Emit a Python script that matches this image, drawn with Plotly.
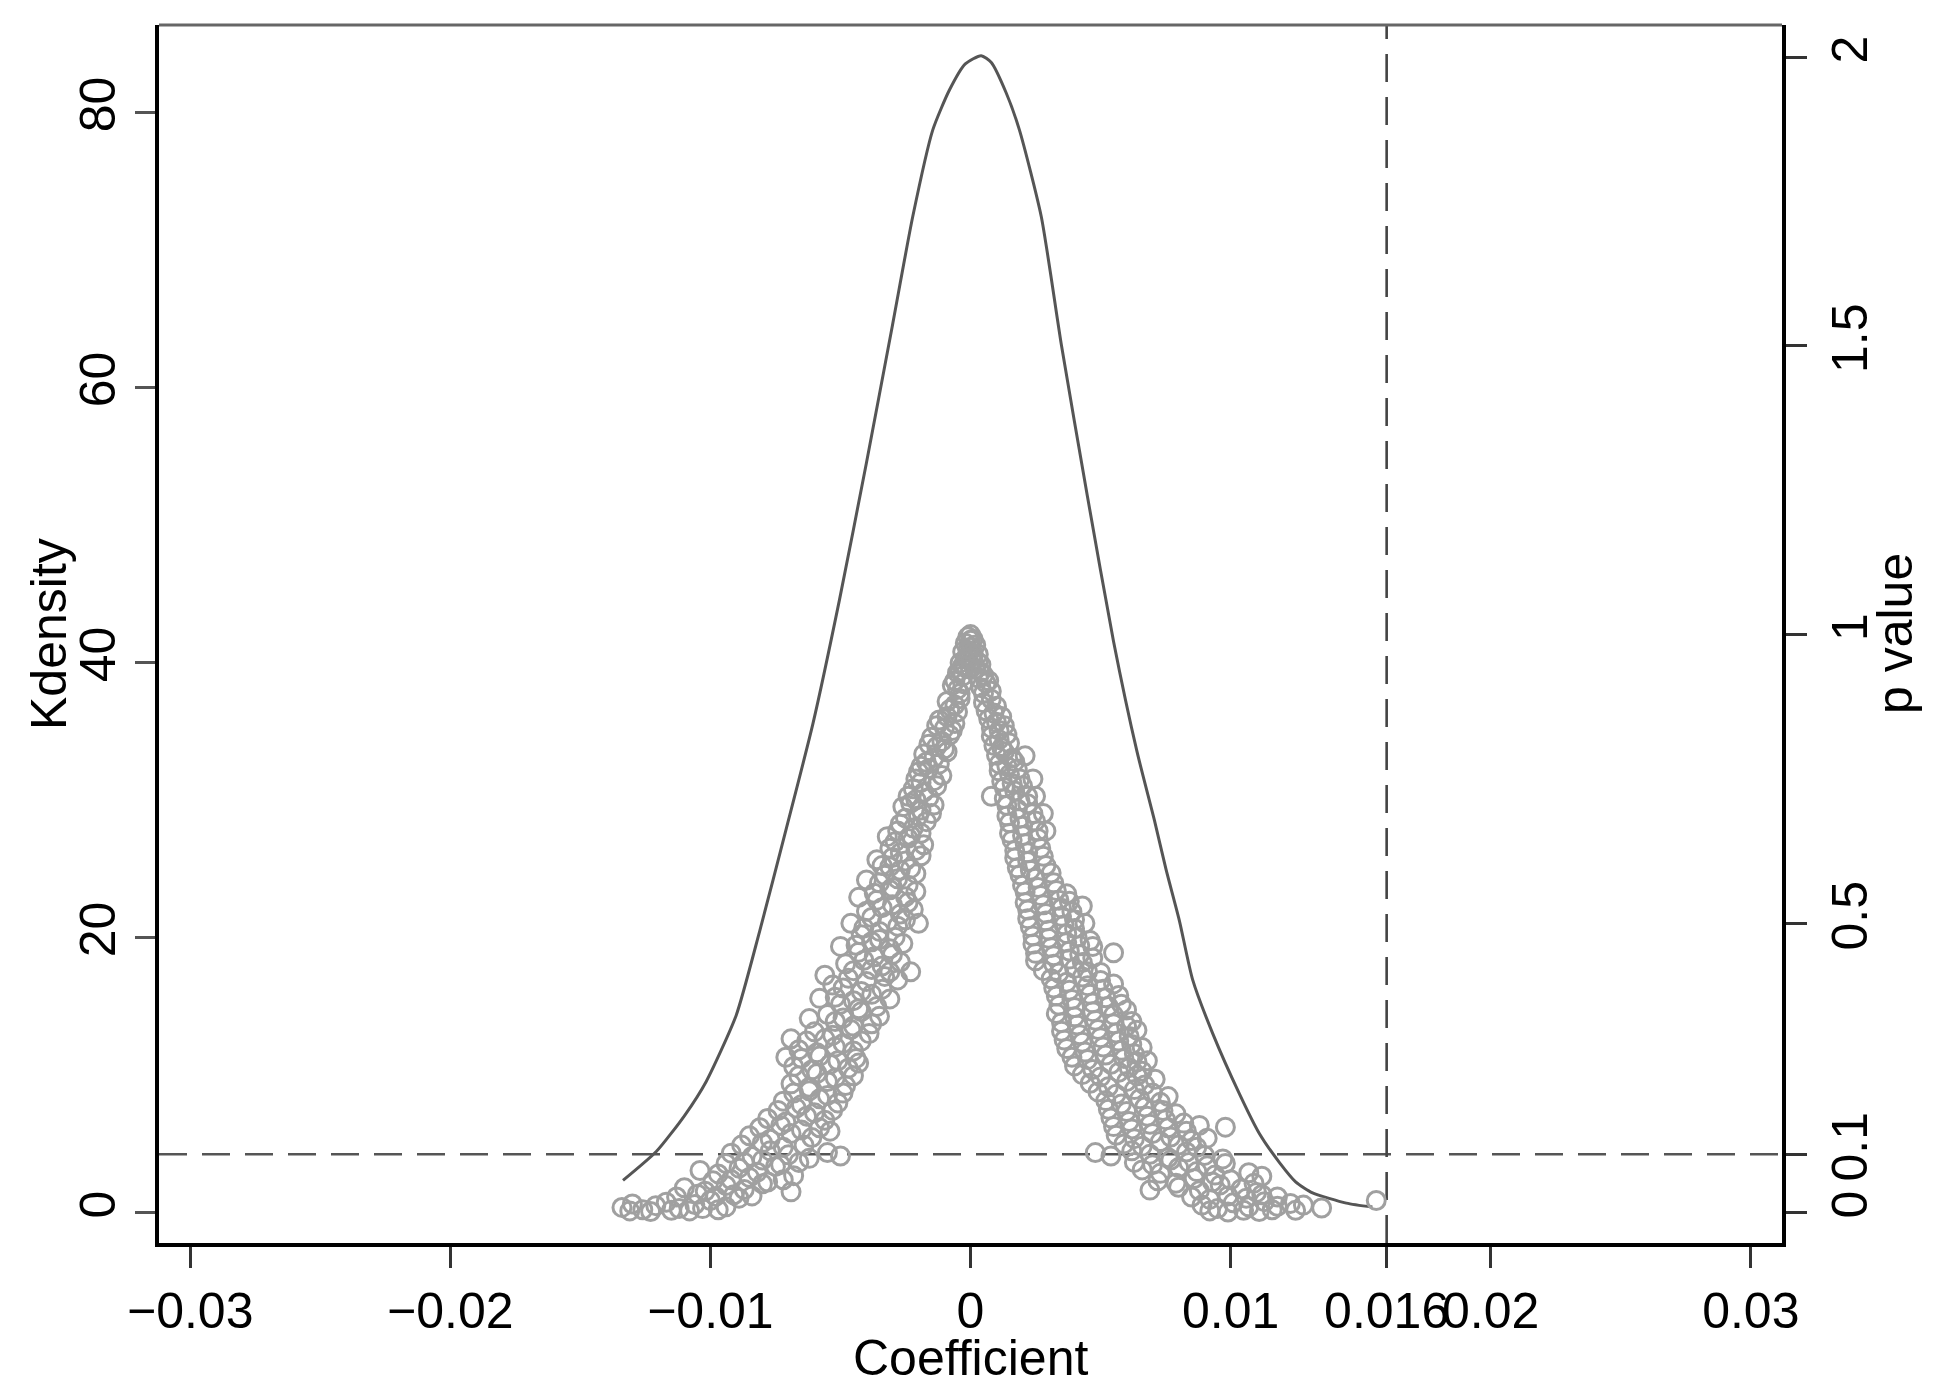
import plotly.graph_objects as go

# ---------------- data ----------------
# kernel density of placebo coefficients (left axis)
kd_coef = [-0.01336, -0.01208, -0.01100, -0.01016, -0.00901, -0.00811, -0.00708, -0.00606,
           -0.00504, -0.00400, -0.00300, -0.00222, -0.00145, -0.00081, -0.00020, 0.00041,
           0.00080, 0.00137, 0.00188, 0.00272, 0.00350, 0.00450, 0.00550, 0.00640,
           0.00707, 0.00752, 0.00803, 0.00854, 0.00931, 0.01034, 0.01111, 0.01188,
           0.01250, 0.01315, 0.01445, 0.01545]
kd_vals = [2.3, 4.4, 7.0, 9.5, 14.3, 20.4, 27.9, 35.5,
           44.5, 54.5, 64.5, 72.4, 78.7, 81.6, 83.5, 84.1,
           83.6, 81.4, 78.7, 72.4, 63.0, 52.0, 41.5, 33.5,
           28.5, 24.9, 21.2, 16.9, 13.0, 8.6, 5.7, 3.6,
           2.2, 1.4, 0.65, 0.36]

# placebo estimates: (coefficient, p value), right axis
placebo_peak = [(0.0000, 1.000), (-0.0001, 0.996), (0.0001, 0.992), (-0.0002, 0.985), (0.0002, 0.982),
                (0.0000, 0.978), (-0.0003, 0.970), (0.0003, 0.966), (-0.0001, 0.962), (0.0001, 0.957),
                (-0.0004, 0.951), (0.0004, 0.948), (-0.0002, 0.944), (0.0002, 0.940), (-0.0005, 0.934),
                (0.0005, 0.930), (-0.0003, 0.928), (0.0003, 0.925),
                (0.0000, 0.990), (-0.0001, 0.973), (0.0001, 0.968), (-0.0002, 0.958), (0.0003, 0.952),
                (-0.0003, 0.946), (0.0000, 0.940), (-0.0004, 0.937), (0.0004, 0.935)]

placebo_left = [
    (-0.0007, 0.912), (-0.0005, 0.905), (-0.0003, 0.915),
    (-0.0009, 0.884), (-0.0006, 0.878), (-0.0004, 0.889),
    (-0.0012, 0.852), (-0.0009, 0.858), (-0.0006, 0.846),
    (-0.0015, 0.822), (-0.0011, 0.815), (-0.0008, 0.826),
    (-0.0018, 0.793), (-0.0014, 0.787), (-0.0009, 0.797),
    (-0.0020, 0.762), (-0.0016, 0.768), (-0.0011, 0.756),
    (-0.0022, 0.733), (-0.0018, 0.727), (-0.0013, 0.738),
    (-0.0026, 0.702), (-0.0023, 0.708), (-0.0019, 0.696), (-0.0014, 0.705),
    (-0.0027, 0.672), (-0.0022, 0.665), (-0.0017, 0.676),
    (-0.0029, 0.641), (-0.0024, 0.647), (-0.0018, 0.636),
    (-0.0034, 0.600), (-0.0030, 0.614), (-0.0025, 0.608), (-0.0019, 0.617),
    (-0.0033, 0.583), (-0.0028, 0.577), (-0.0021, 0.586),
    (-0.0037, 0.552), (-0.0031, 0.558), (-0.0025, 0.546), (-0.0021, 0.555),
    (-0.0040, 0.521), (-0.0034, 0.527), (-0.0027, 0.516), (-0.0022, 0.524),
    (-0.0041, 0.492), (-0.0035, 0.486), (-0.0028, 0.495), (-0.0020, 0.500),
    (-0.0044, 0.462), (-0.0038, 0.468), (-0.0031, 0.456), (-0.0026, 0.465),
    (-0.0048, 0.430), (-0.0041, 0.436), (-0.0034, 0.426), (-0.0027, 0.433), (-0.0023, 0.416),
    (-0.0053, 0.393), (-0.0047, 0.405), (-0.0040, 0.399), (-0.0033, 0.408), (-0.0028, 0.402),
    (-0.0052, 0.372), (-0.0045, 0.366), (-0.0038, 0.377), (-0.0031, 0.369),
    (-0.0055, 0.342), (-0.0049, 0.336), (-0.0042, 0.347), (-0.0035, 0.339),
    (-0.0060, 0.312), (-0.0053, 0.306), (-0.0046, 0.316), (-0.0039, 0.309),
    (-0.0066, 0.281), (-0.0059, 0.276), (-0.0052, 0.286), (-0.0045, 0.279),
    (-0.0068, 0.252), (-0.0061, 0.246), (-0.0054, 0.256), (-0.0047, 0.249), (-0.0043, 0.258),
    (-0.0069, 0.222), (-0.0062, 0.216), (-0.0055, 0.226), (-0.0048, 0.219),
    (-0.0072, 0.192), (-0.0065, 0.186), (-0.0058, 0.196), (-0.0051, 0.189),
    (-0.0078, 0.162), (-0.0071, 0.156), (-0.0063, 0.166), (-0.0056, 0.159),
    (-0.0085, 0.132), (-0.0077, 0.126), (-0.0069, 0.136), (-0.0061, 0.129), (-0.0054, 0.140),
    (-0.0092, 0.102), (-0.0084, 0.096), (-0.0077, 0.106), (-0.0070, 0.099), (-0.0062, 0.093),
    (-0.0055, 0.103), (-0.0050, 0.097),
    (-0.0104, 0.072), (-0.0097, 0.066), (-0.0089, 0.076), (-0.0082, 0.069), (-0.0075, 0.079),
    (-0.0068, 0.063),
    (-0.0110, 0.042), (-0.0102, 0.036), (-0.0094, 0.046), (-0.0087, 0.039), (-0.0080, 0.049),
    (-0.0069, 0.035),
    (-0.0134, 0.008), (-0.0130, 0.014), (-0.0126, 0.004), (-0.0121, 0.011), (-0.0117, 0.017),
    (-0.0112, 0.006), (-0.0106, 0.013), (-0.0100, 0.020), (-0.0094, 0.009), (-0.0089, 0.024),
    # second pass of the left band
    (-0.0006, 0.920), (-0.0004, 0.898),
    (-0.0008, 0.870), (-0.0005, 0.866),
    (-0.0010, 0.838), (-0.0007, 0.834), (-0.0013, 0.842),
    (-0.0013, 0.806), (-0.0010, 0.802), (-0.0016, 0.810),
    (-0.0012, 0.776), (-0.0017, 0.779), (-0.0019, 0.772),
    (-0.0014, 0.747), (-0.0019, 0.744), (-0.0021, 0.750),
    (-0.0016, 0.718), (-0.0021, 0.714), (-0.0024, 0.720),
    (-0.0020, 0.686), (-0.0025, 0.682), (-0.0015, 0.690),
    (-0.0019, 0.656), (-0.0023, 0.652), (-0.0028, 0.660),
    (-0.0021, 0.626), (-0.0027, 0.622), (-0.0031, 0.630),
    (-0.0023, 0.595), (-0.0027, 0.592), (-0.0031, 0.598),
    (-0.0024, 0.566), (-0.0030, 0.562), (-0.0035, 0.570),
    (-0.0024, 0.536), (-0.0030, 0.532), (-0.0036, 0.540),
    (-0.0025, 0.506), (-0.0032, 0.502), (-0.0038, 0.510),
    (-0.0029, 0.476), (-0.0035, 0.472), (-0.0042, 0.480),
    (-0.0030, 0.446), (-0.0037, 0.442), (-0.0043, 0.450),
    (-0.0031, 0.416), (-0.0038, 0.420), (-0.0045, 0.418),
    (-0.0034, 0.386), (-0.0042, 0.382), (-0.0049, 0.388),
    (-0.0036, 0.356), (-0.0043, 0.352), (-0.0050, 0.360),
    (-0.0038, 0.326), (-0.0045, 0.322), (-0.0052, 0.330),
    (-0.0042, 0.296), (-0.0049, 0.292), (-0.0056, 0.300), (-0.0063, 0.296),
    (-0.0044, 0.266), (-0.0051, 0.262), (-0.0058, 0.270), (-0.0065, 0.266),
    (-0.0045, 0.236), (-0.0052, 0.232), (-0.0059, 0.240), (-0.0066, 0.236),
    (-0.0049, 0.206), (-0.0055, 0.202), (-0.0062, 0.210), (-0.0068, 0.206),
    (-0.0053, 0.176), (-0.0060, 0.172), (-0.0067, 0.180), (-0.0074, 0.176),
    (-0.0058, 0.146), (-0.0065, 0.142), (-0.0073, 0.150), (-0.0081, 0.146),
    (-0.0064, 0.116), (-0.0072, 0.112), (-0.0080, 0.120), (-0.0088, 0.116),
    (-0.0066, 0.086), (-0.0073, 0.082), (-0.0080, 0.090), (-0.0087, 0.086), (-0.0094, 0.084),
    (-0.0072, 0.056), (-0.0078, 0.052), (-0.0085, 0.060), (-0.0092, 0.056), (-0.0099, 0.054),
    (-0.0084, 0.028), (-0.0091, 0.030), (-0.0098, 0.027), (-0.0105, 0.031), (-0.0113, 0.026),
    (-0.0131, 0.002), (-0.0123, 0.001), (-0.0115, 0.003), (-0.0108, 0.002), (-0.0103, 0.006),
    (-0.0097, 0.004),
    # outer edge of the left band
    (-0.0032, 0.650), (-0.0036, 0.610), (-0.0040, 0.575), (-0.0043, 0.545), (-0.0046, 0.500),
    (-0.0050, 0.460), (-0.0056, 0.410), (-0.0058, 0.370), (-0.0062, 0.335), (-0.0069, 0.300),
    (-0.0071, 0.268),
]

placebo_right = [
    (0.0004, 0.908), (0.0006, 0.916), (0.0008, 0.902),
    (0.0005, 0.882), (0.0008, 0.888), (0.0010, 0.876),
    (0.0007, 0.854), (0.0010, 0.848), (0.0012, 0.858),
    (0.0008, 0.824), (0.0011, 0.818), (0.0014, 0.827),
    (0.0010, 0.791), (0.0013, 0.797), (0.0016, 0.786),
    (0.0011, 0.764), (0.0015, 0.758), (0.0018, 0.767),
    (0.0008, 0.720), (0.0013, 0.735), (0.0017, 0.729), (0.0020, 0.738), (0.0025, 0.720),
    (0.0014, 0.704), (0.0018, 0.698), (0.0022, 0.707),
    (0.0015, 0.674), (0.0020, 0.668), (0.0025, 0.677),
    (0.0016, 0.644), (0.0021, 0.638), (0.0026, 0.647),
    (0.0017, 0.613), (0.0022, 0.607), (0.0028, 0.616),
    (0.0019, 0.584), (0.0025, 0.578), (0.0031, 0.587),
    (0.0021, 0.554), (0.0027, 0.548), (0.0033, 0.557), (0.0037, 0.551),
    (0.0022, 0.523), (0.0029, 0.517), (0.0035, 0.526), (0.0039, 0.520),
    (0.0023, 0.494), (0.0030, 0.488), (0.0036, 0.497), (0.0040, 0.491),
    (0.0024, 0.464), (0.0031, 0.458), (0.0037, 0.467), (0.0042, 0.461), (0.0047, 0.460),
    (0.0025, 0.435), (0.0032, 0.429), (0.0038, 0.438), (0.0043, 0.432), (0.0055, 0.449),
    (0.0031, 0.404), (0.0037, 0.398), (0.0043, 0.407), (0.0050, 0.401),
    (0.0033, 0.374), (0.0039, 0.368), (0.0046, 0.377), (0.0052, 0.371),
    (0.0033, 0.344), (0.0040, 0.338), (0.0047, 0.347), (0.0055, 0.341), (0.0062, 0.330),
    (0.0035, 0.313), (0.0042, 0.307), (0.0049, 0.316), (0.0056, 0.310), (0.0061, 0.304),
    (0.0037, 0.283), (0.0044, 0.277), (0.0051, 0.286), (0.0058, 0.280), (0.0063, 0.274),
    (0.0040, 0.253), (0.0047, 0.247), (0.0054, 0.256), (0.0061, 0.250), (0.0066, 0.244),
    (0.0046, 0.223), (0.0053, 0.217), (0.0060, 0.226), (0.0067, 0.220),
    (0.0052, 0.193), (0.0058, 0.187), (0.0065, 0.196), (0.0073, 0.190),
    (0.0054, 0.163), (0.0061, 0.157), (0.0068, 0.166), (0.0075, 0.160), (0.0082, 0.154),
    (0.0056, 0.133), (0.0063, 0.127), (0.0070, 0.136), (0.0077, 0.130), (0.0085, 0.124),
    (0.0098, 0.147),
    (0.0048, 0.103), (0.0054, 0.097), (0.0062, 0.106), (0.0069, 0.100), (0.0076, 0.094),
    (0.0083, 0.104), (0.0090, 0.098), (0.0097, 0.092),
    (0.0066, 0.073), (0.0073, 0.067), (0.0080, 0.077), (0.0087, 0.070), (0.0094, 0.064),
    (0.0107, 0.068), (0.0112, 0.062),
    (0.0069, 0.038), (0.0080, 0.043), (0.0088, 0.037), (0.0096, 0.047), (0.0104, 0.040),
    (0.0110, 0.034),
    (0.0089, 0.012), (0.0095, 0.006), (0.0101, 0.016), (0.0107, 0.009), (0.0113, 0.018),
    (0.0118, 0.010), (0.0123, 0.015), (0.0128, 0.012), (0.0135, 0.007), (0.0156, 0.020),
    # second pass of the right band
    (0.0005, 0.898), (0.0007, 0.920),
    (0.0006, 0.868), (0.0009, 0.864),
    (0.0008, 0.838), (0.0011, 0.834), (0.0013, 0.842),
    (0.0009, 0.808), (0.0012, 0.804), (0.0015, 0.812),
    (0.0011, 0.776), (0.0014, 0.772), (0.0017, 0.780),
    (0.0012, 0.746), (0.0016, 0.742), (0.0019, 0.750),
    (0.0013, 0.716), (0.0019, 0.712), (0.0022, 0.720),
    (0.0014, 0.686), (0.0019, 0.682), (0.0024, 0.690),
    (0.0015, 0.656), (0.0020, 0.652), (0.0026, 0.660),
    (0.0017, 0.626), (0.0022, 0.622), (0.0027, 0.630),
    (0.0018, 0.596), (0.0023, 0.592), (0.0029, 0.600),
    (0.0020, 0.566), (0.0026, 0.562), (0.0032, 0.570),
    (0.0021, 0.536), (0.0028, 0.532), (0.0034, 0.540), (0.0038, 0.538),
    (0.0022, 0.508), (0.0029, 0.504), (0.0035, 0.512), (0.0040, 0.506),
    (0.0024, 0.478), (0.0030, 0.474), (0.0037, 0.482), (0.0041, 0.476),
    (0.0025, 0.448), (0.0032, 0.444), (0.0038, 0.452), (0.0042, 0.446),
    (0.0028, 0.418), (0.0034, 0.414), (0.0040, 0.422), (0.0045, 0.416),
    (0.0032, 0.388), (0.0038, 0.384), (0.0045, 0.392), (0.0051, 0.386),
    (0.0034, 0.358), (0.0040, 0.354), (0.0047, 0.362), (0.0053, 0.356), (0.0058, 0.360),
    (0.0035, 0.328), (0.0041, 0.324), (0.0048, 0.332), (0.0055, 0.326), (0.0060, 0.322),
    (0.0036, 0.298), (0.0043, 0.294), (0.0050, 0.302), (0.0057, 0.296), (0.0062, 0.290),
    (0.0039, 0.268), (0.0045, 0.264), (0.0052, 0.272), (0.0059, 0.266), (0.0064, 0.260),
    (0.0043, 0.238), (0.0050, 0.234), (0.0057, 0.242), (0.0064, 0.236),
    (0.0049, 0.208), (0.0056, 0.204), (0.0063, 0.212), (0.0070, 0.206),
    (0.0053, 0.178), (0.0060, 0.174), (0.0067, 0.182), (0.0074, 0.176),
    (0.0055, 0.148), (0.0062, 0.144), (0.0069, 0.152), (0.0076, 0.146), (0.0083, 0.140),
    (0.0059, 0.118), (0.0066, 0.114), (0.0073, 0.122), (0.0080, 0.116), (0.0087, 0.112),
    (0.0063, 0.086), (0.0070, 0.082), (0.0077, 0.090), (0.0084, 0.086), (0.0091, 0.080),
    (0.0098, 0.084),
    (0.0072, 0.054), (0.0079, 0.050), (0.0086, 0.058), (0.0093, 0.052), (0.0100, 0.056),
    (0.0109, 0.050),
    (0.0085, 0.026), (0.0092, 0.022), (0.0099, 0.028), (0.0106, 0.024), (0.0112, 0.030),
    (0.0118, 0.026),
    (0.0092, 0.002), (0.0099, 0.000), (0.0105, 0.003), (0.0111, 0.001), (0.0116, 0.004),
    (0.0125, 0.003),
    # outer edge of the right band
    (0.0021, 0.790), (0.0024, 0.750), (0.0028, 0.690), (0.0029, 0.660), (0.0043, 0.530),
    (0.0044, 0.500), (0.0046, 0.470), (0.0047, 0.440), (0.0050, 0.415), (0.0055, 0.395),
    (0.0057, 0.375), (0.0060, 0.350), (0.0064, 0.315), (0.0066, 0.285), (0.0068, 0.262),
    (0.0071, 0.230), (0.0076, 0.200), (0.0079, 0.170), (0.0088, 0.150), (0.0091, 0.128),
]

x_tickvals = [-0.03, -0.02, -0.01, 0, 0.01, 0.016, 0.02, 0.03]
x_ticktext = ["\u22120.03", "\u22120.02", "\u22120.01", "0", "0.01", "0.016", "0.02", "0.03"]
y_tickvals = [0, 20, 40, 60, 80]
y2_tickvals = [0, 0.1, 0.5, 1, 1.5, 2]
y2_ticktext = ["0", "0.1", "0.5", "1", "1.5", "2"]
true_coef = 0.016
p_threshold = 0.1

# ---------------- figure ----------------
FONT = "Liberation Sans, Arial, Helvetica, sans-serif"
pts = placebo_left + placebo_peak + placebo_right
pc = [a for a, b in pts]
pp = [b for a, b in pts]

fig = go.Figure()
fig.add_trace(go.Scatter(
    x=pc, y=pp, yaxis="y2", mode="markers", name="p value",
    marker=dict(symbol="circle-open", size=18, color="#a0a0a0",
                line=dict(width=3, color="#a0a0a0")),
    showlegend=False))
fig.add_trace(go.Scatter(
    x=kd_coef, y=kd_vals, yaxis="y", mode="lines", name="Kdensity",
    line=dict(color="#555555", width=3, shape="spline", smoothing=0.6),
    showlegend=False))

dash = "28px,15px"
fig.add_shape(type="line", xref="paper", x0=0, x1=1, yref="y2", y0=p_threshold, y1=p_threshold,
              line=dict(color="#555555", width=2.6, dash=dash), layer="below")
fig.add_shape(type="line", xref="x", x0=true_coef, x1=true_coef, yref="paper", y0=0, y1=1,
              line=dict(color="#444444", width=2.6, dash=dash), layer="below")
# top border of plot region
fig.add_shape(type="line", xref="paper", x0=0, x1=1, yref="paper", y0=1, y1=1,
              line=dict(color="#666666", width=3))

tickfont = dict(family=FONT, size=50, color="black")
fig.update_layout(
    width=1919, height=1383,
    margin=dict(l=151, r=145, t=17, b=148, autoexpand=False),
    paper_bgcolor="white", plot_bgcolor="white",
    font=dict(family=FONT, size=50, color="black"),
    xaxis=dict(range=[-0.0312, 0.0312], tickvals=x_tickvals, ticktext=x_ticktext,
               tickangle=0,
               ticks="outside", ticklen=21, tickwidth=2.5, tickcolor="#333333",
               showline=True, linecolor="black", linewidth=4,
               showgrid=False, zeroline=False, tickfont=tickfont),
    yaxis=dict(range=[-2.25, 86.33], tickvals=y_tickvals, tickangle=-90,
               ticks="outside", ticklen=20, tickwidth=2.5, tickcolor="#555555",
               showline=True, linecolor="black", linewidth=4,
               showgrid=False, zeroline=False, tickfont=tickfont),
    yaxis2=dict(range=[-0.0536, 2.0555], tickvals=y2_tickvals, ticktext=y2_ticktext,
                tickangle=-90, overlaying="y", side="right",
                ticks="outside", ticklen=21, tickwidth=2.5, tickcolor="#333333",
                showline=True, linecolor="black", linewidth=4,
                showgrid=False, zeroline=False, tickfont=tickfont),
    annotations=[
        dict(text="Coefficient", xref="paper", yref="paper", x=0.5, y=0, yshift=-115,
             xanchor="center", yanchor="middle", showarrow=False,
             font=dict(family=FONT, size=50, color="black")),
        dict(text="Kdensity", xref="paper", yref="paper", x=0, y=0.5, xshift=-110,
             xanchor="center", yanchor="middle", textangle=-90, showarrow=False,
             font=dict(family=FONT, size=50, color="black")),
        dict(text="p value", xref="paper", yref="paper", x=1, y=0.5, xshift=113,
             xanchor="center", yanchor="middle", textangle=-90, showarrow=False,
             font=dict(family=FONT, size=50, color="black")),
    ],
)

fig.write_html("out.html")
